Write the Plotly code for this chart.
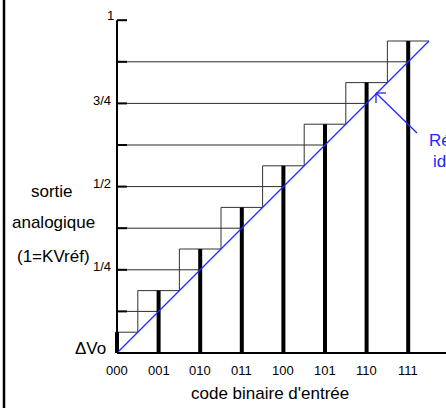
import plotly.graph_objects as go

# ---------------- data ----------------
codes = ["000", "001", "010", "011", "100", "101", "110", "111"]
code_values = [0, 1, 2, 3, 4, 5, 6, 7]
sortie_reelle = [0.0625, 0.1875, 0.3125, 0.4375, 0.5625, 0.6875, 0.8125, 0.9375]
delta_vo = 0.0625
lsb = 0.125
grid_levels = [0.125, 0.25, 0.375, 0.5, 0.625, 0.75, 0.875]
axis_tick_levels = [0.125, 0.25, 0.375, 0.5, 0.625, 0.75, 0.875, 1.0]
y_tick_values = [0.25, 0.5, 0.75, 1.0]
y_tick_labels = ["1/4", "1/2", "3/4", "1"]

# ---------------- layout geometry (pixels) ----------------
W, H = 446, 408
X0, DX = 117.0, 41.6     # pixel of code 0, pixels per code
Y0, DY = 353.0, 332.8    # pixel of level 0, pixels per unit level


def px2x(px):
    return (px - X0) / DX


def py2y(py):
    return (Y0 - py) / DY


BLUE = "#2626ff"
FONT = "Liberation Sans, Arial, sans-serif"

fig = go.Figure()


def seg(xs, ys, color="black", width=1.0):
    fig.add_trace(go.Scatter(x=xs, y=ys, mode="lines",
                             line=dict(color=color, width=width),
                             hoverinfo="skip", showlegend=False))


# horizontal grid lines from the axis up to the ideal line
for lvl in grid_levels:
    seg([0, lvl / lsb], [lvl, lvl], color="#2a2a2a", width=1)

# staircase (thin)
sx, sy = [0], [sortie_reelle[0]]
for k in range(len(code_values)):
    sx += [code_values[k] - 0.5 if k > 0 else 0, code_values[k] + 0.5]
    sy += [sortie_reelle[k], sortie_reelle[k]]
    if k + 1 < len(code_values):
        sx += [code_values[k] + 0.5]
        sy += [sortie_reelle[k + 1]]
seg(sx[1:], sy[1:], color="#333333", width=1)

# thick bars at each code
for c, v in zip(code_values, sortie_reelle):
    seg([c, c], [0, v], color="black", width=4)

# ideal response
x_end = code_values[-1] + 0.5
seg([0, x_end], [0, x_end * lsb], color=BLUE, width=1.3)

# axes
seg([0, 0], [0, 1.0], color="black", width=2)
seg([0, px2x(W + 5)], [0, 0], color="black", width=2)
for lvl in axis_tick_levels:
    seg([0, px2x(X0 + 10)], [lvl, lvl], color="black", width=2)

# arrow to the ideal line
tip_x, tip_y = px2x(376), py2y(93)
seg([px2x(417), tip_x], [py2y(133), tip_y], color=BLUE, width=1.3)
seg([tip_x, px2x(386)], [tip_y, tip_y], color=BLUE, width=1.3)
seg([tip_x, tip_x], [tip_y, py2y(103)], color=BLUE, width=1.3)

annotations = []


def txt(text, px, py, size, xanchor="center", color="black"):
    annotations.append(dict(text=text, x=px2x(px), y=py2y(py), xref="x", yref="y",
                            showarrow=False, xanchor=xanchor, yanchor="middle",
                            font=dict(family=FONT, size=size, color=color)))


# x tick labels
for c, lab in zip(code_values, codes):
    txt(lab, X0 + c * DX, 370, 13)

# y tick labels
for v, lab in zip(y_tick_values, y_tick_labels):
    off = 5 if v == 1.0 else 3
    txt(lab, 113 if v != 1.0 else 116, Y0 - v * DY - off, 13, xanchor="right")

txt("ΔVo", 108, 348, 17, xanchor="right")
txt("sortie", 52, 191, 17)
txt("analogique", 53, 222, 17)
txt("(1=KVréf)", 53, 256, 17)
txt("code binaire d'entrée", 270, 393, 17)
txt("Réponse", 427, 140, 17, xanchor="left", color=BLUE)
txt("idéale", 431, 161, 17, xanchor="left", color=BLUE)

fig.update_layout(
    width=W, height=H,
    margin=dict(l=0, r=0, t=0, b=0),
    paper_bgcolor="white", plot_bgcolor="white",
    xaxis=dict(range=[px2x(0), px2x(W)], visible=False, fixedrange=True),
    yaxis=dict(range=[py2y(H), py2y(0)], visible=False, fixedrange=True),
    annotations=annotations,
    shapes=[dict(type="line", xref="paper", yref="paper",
                 x0=4 / W, x1=4 / W, y0=0, y1=1,
                 line=dict(color="black", width=2.5))],
    showlegend=False,
)

fig.write_html("out.html", config={"displayModeBar": False},
               post_script="document.body.style.margin='0';document.body.style.overflow='hidden';")
